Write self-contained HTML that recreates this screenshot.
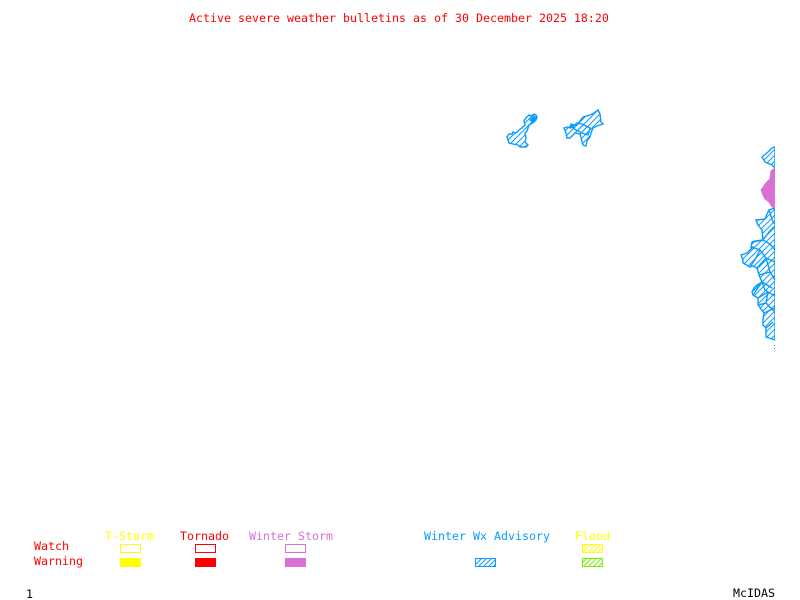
<!DOCTYPE html>
<html><head><meta charset="utf-8"><style>
html,body{margin:0;padding:0;background:#fff;width:800px;height:600px;overflow:hidden}
svg{display:block}
text{font-family:"DejaVu Sans Mono","Liberation Mono",monospace;font-size:11.63px;white-space:pre}
</style></head><body>
<svg width="800" height="600" viewBox="0 0 800 600" xmlns="http://www.w3.org/2000/svg">
<defs>
<pattern id="hb" patternUnits="userSpaceOnUse" width="6" height="6"><path d="M-1 7L7 -1M-1 1L1 -1M5 7L7 5" stroke="#0a9bff" stroke-width="1" fill="none"/></pattern>
<pattern id="lb" patternUnits="userSpaceOnUse" width="5" height="5"><path d="M-1 6L6 -1M-1 1L1 -1M4 6L6 4" stroke="#0a9bff" stroke-width="1" fill="none"/></pattern>
<pattern id="ly" patternUnits="userSpaceOnUse" width="5" height="5"><path d="M-1 6L6 -1M-1 1L1 -1M4 6L6 4" stroke="#ffff00" stroke-width="1" fill="none"/></pattern>
<pattern id="lg" patternUnits="userSpaceOnUse" width="5" height="5"><path d="M-1 6L6 -1M-1 1L1 -1M4 6L6 4" stroke="#76ee00" stroke-width="1" fill="none"/></pattern>
<clipPath id="c"><rect x="0" y="0" width="775" height="600"/></clipPath>
</defs>
<text x="189" y="22" fill="#f00">Active severe weather bulletins as of 30 December 2025 18:20</text>

<g fill="url(#hb)" stroke="#0a9bff" stroke-width="1.4" stroke-linejoin="miter" clip-path="url(#c)">
<path d="M507 137L509 134L512 134L513 132L516 133L519 130L523 127L525 125L524 121L526 118L529 115L531 116L534 114L536 115L537 117L536 120L534 122L531 124L529 125L528 128L527 131L525 133L526 138L525 142L528 145L526 147L522 147L520 147L518 145L513 144L509 143L508 140Z"/>
<path d="M530 120L534 116L536 118L533 122Z" fill="#0a9bff"/>
<path d="M564 128L568 127L570 128L573 125L577 125L580 121L583 117L587 116L590 115L594 113L598 110L600 114L601 122L603 124L597 126L593 128L591 133L590 137L587 141L586 146L583 145L582 142L581 137L580 134L575 133L572 136L570 138L567 138L566 133Z"/>
<path d="M572 127L577 123L582 124L590 128L588 135L582 133L576 130Z"/>
<path d="M571 124L574 125L573 128L570 127Z" fill="#0a9bff"/>
<path d="M762 157L768 152L772 148L775 147L775 168L772 165L765 162Z"/>
<path d="M775 208L769 210L767 214L765 219L756 220L758 225L762 230L763 240L755 241L752 242L751 247L753 247L747 253L741 255L743 260L743 263L750 267L753 266L757 268L759 275L762 282L757 285L754 288L752 292L753 295L758 298L758 305L761 309L764 313L763 319L763 325L766 328L766 337L775 340Z"/>
<path d="M752 242L763 240L770 244L775 250M763 240L769 232L775 226M751 247L760 250L766 258L775 262M757 268L766 258M759 275L770 272L775 280M762 282L772 288M758 298L768 292L775 296M764 313L775 308M753 295L762 282M769 210L773 222L775 224M760 250L756 258L750 267M766 258L769 268L770 272M768 292L766 303L775 312M762 282L765 290L768 292M773 322L766 328M758 305L766 303" fill="none"/>
</g>
<path d="M775 168L771 171L770 179L766 183L761 190L763 195L765 199L769 202L772 207L775 208Z" fill="#da70d6" stroke="#da70d6" clip-path="url(#c)"/>
<rect x="774" y="345" width="1" height="1" fill="#0a9bff"/>
<rect x="774" y="348" width="1" height="1" fill="#0a9bff"/>

<text x="105" y="540" fill="#ff0">T-Storm</text>
<text x="180" y="540" fill="#f00">Tornado</text>
<text x="249" y="540" fill="#da70d6">Winter Storm</text>
<text x="424" y="540" fill="#0a9bff">Winter Wx Advisory</text>
<text x="575" y="540" fill="#ff0">Flood</text>
<text x="34" y="550" fill="#f00">Watch</text>
<text x="34" y="565" fill="#f00">Warning</text>
<text x="26" y="598" fill="#000">1</text>
<text x="733" y="597" fill="#000">McIDAS</text>

<g shape-rendering="crispEdges" stroke-width="1">
<rect x="120.5" y="544.5" width="20" height="8" fill="none" stroke="#ff0"/>
<rect x="120" y="558" width="21" height="9" fill="#ff0"/>
<rect x="195.5" y="544.5" width="20" height="8" fill="none" stroke="#f00"/>
<rect x="195" y="558" width="21" height="9" fill="#f00"/>
<rect x="285.5" y="544.5" width="20" height="8" fill="none" stroke="#da70d6"/>
<rect x="285" y="558" width="21" height="9" fill="#da70d6"/>
<rect x="475.5" y="558.5" width="20" height="8" fill="url(#lb)" stroke="#0a9bff"/>
<rect x="582.5" y="544.5" width="20" height="8" fill="url(#ly)" stroke="#ff0"/>
<rect x="582.5" y="558.5" width="20" height="8" fill="url(#lg)" stroke="#76ee00"/>
</g>
</svg>
</body></html>
